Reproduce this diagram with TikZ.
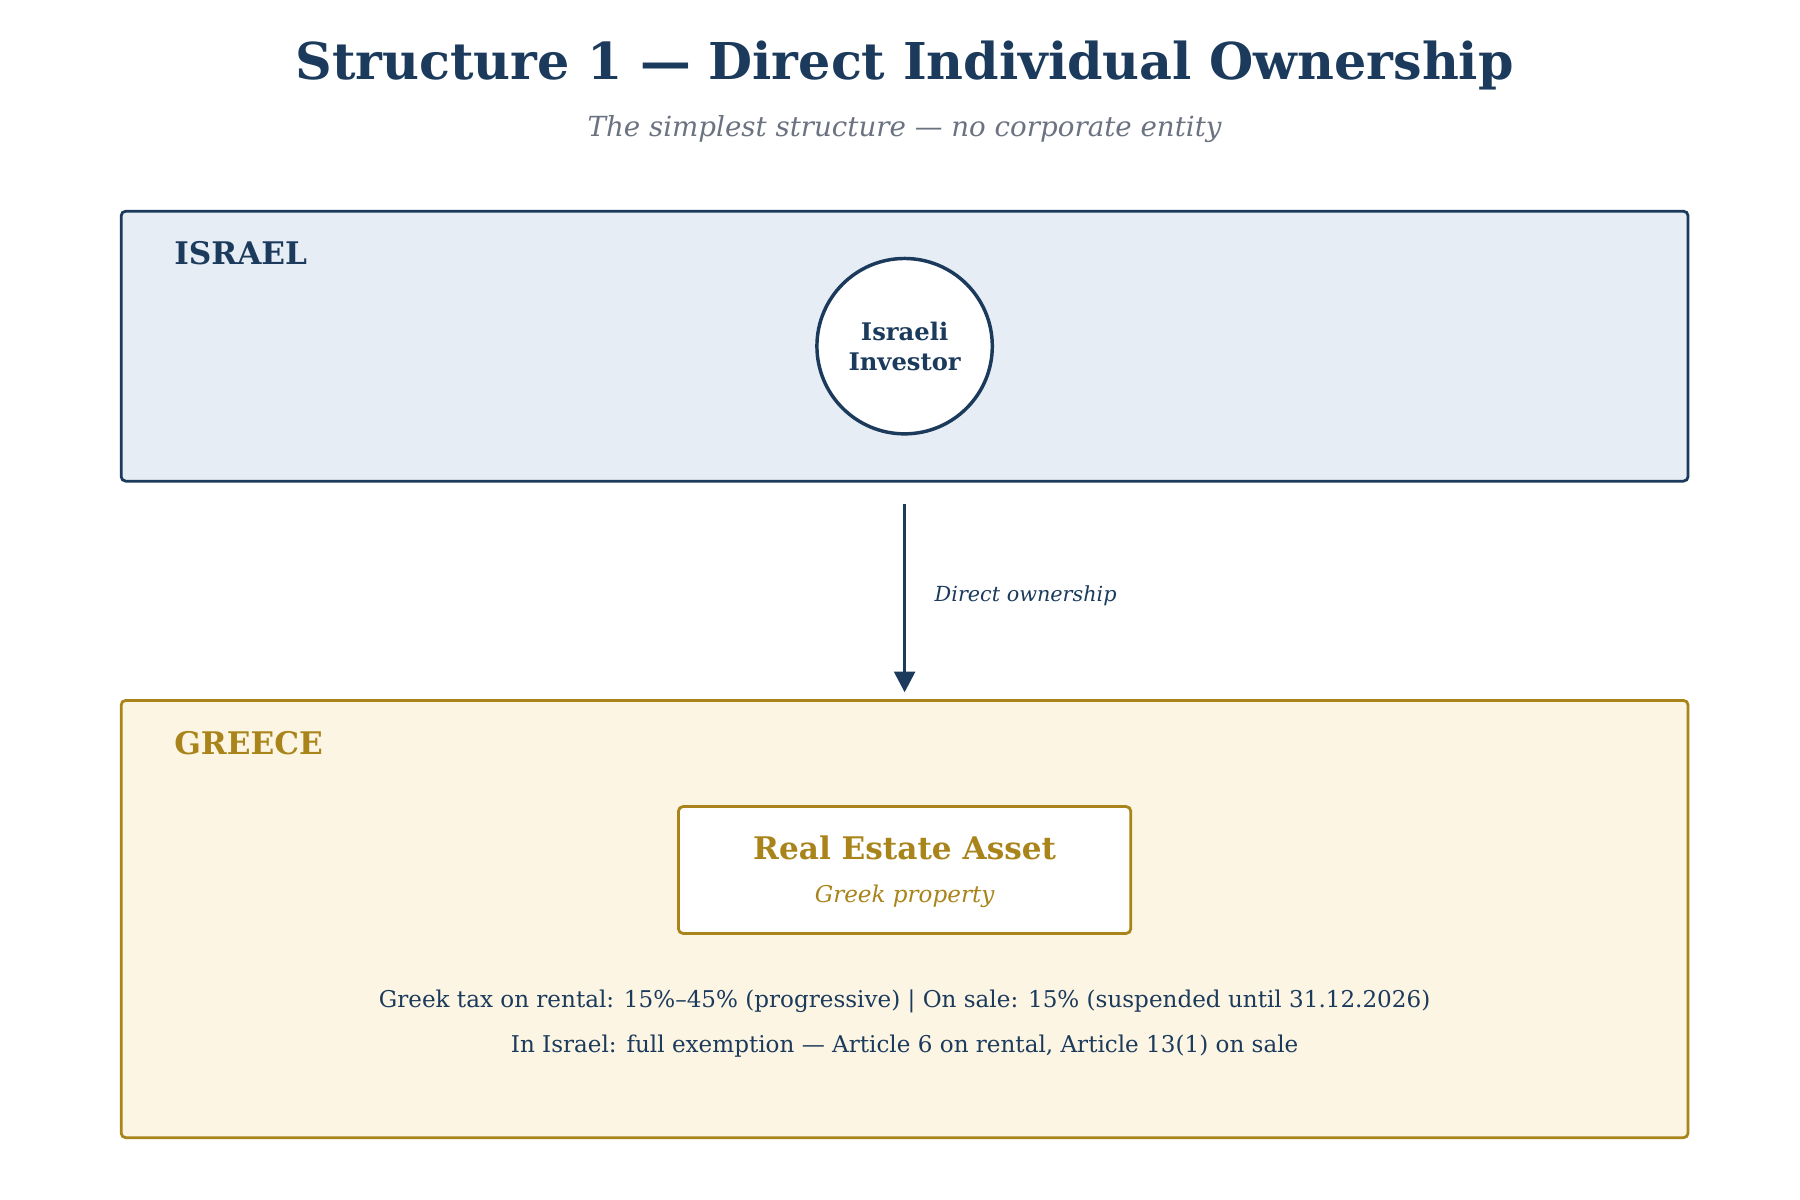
\documentclass[tikz,border=0pt]{standalone}
\usepackage{fontspec}
\setmainfont{DejaVu Serif}
\usepackage{tikz}
\usetikzlibrary{arrows.meta}
\definecolor{navy}{HTML}{1B3A5C}
\definecolor{gold}{HTML}{A8841A}
\definecolor{paleblue}{HTML}{E6EDF5}
\definecolor{cream}{HTML}{FCF5E3}
\definecolor{slate}{HTML}{6B7280}
\tikzset{
  region/.style={draw, line width=1.2pt, rounded corners=2pt},
  tag/.style={anchor=west, font=\bfseries\fontsize{13.5}{16}\selectfont},
  note/.style={text=navy, font=\fontsize{10}{12}\selectfont}
}
\begin{document}
\begin{tikzpicture}[x=0.5pt,y=-0.5pt]
  \useasboundingbox (0,0) rectangle (1560,1040);
  % titles
  \node (title) at (784,57) [text=navy, font=\bfseries\fontsize{22}{26}\selectfont] {Structure 1 — Direct Individual Ownership};
  \node (subtitle) at (784,112) [text=slate, font=\itshape\fontsize{12}{14}\selectfont] {The simplest structure — no corporate entity};
  % israel
  \draw [region, draw=navy, fill=paleblue] (105,183) rectangle (1463,417);
  \node (israel) at (144,219) [tag, text=navy] {ISRAEL};
  \node (investor) at (784,300) [circle, draw=navy, line width=1.5pt, fill=white, minimum size=76pt, align=center, text=navy, font=\bfseries\fontsize{10.5}{13}\selectfont] {Israeli\\Investor};
  % greece
  \draw [region, draw=gold, fill=cream] (105,607) rectangle (1463,986);
  \node (greece) at (144,644) [tag, text=gold] {GREECE};
  \draw [region, draw=gold, fill=white] (588,699) rectangle (980,809);
  \node (asset) at (784,735) [text=gold, font=\bfseries\fontsize{13.5}{16}\selectfont] {Real Estate Asset};
  \node (greekprop) at (784,777) [text=gold, font=\itshape\fontsize{10}{12}\selectfont] {Greek property};
  \node (tax1) at (784,868) [note] {Greek tax on rental: 15\%–45\% (progressive) | On sale: 15\% (suspended until 31.12.2026)};
  \node (tax2) at (784,907) [note] {In Israel: full exemption — Article 6 on rental, Article 13(1) on sale};
  % arrow
  \coordinate (top) at (784,437);
  \coordinate (bottom) at (784,600);
  \draw [navy, line width=1.5pt, -{Triangle[length=9pt,width=9pt]}] (top) -- (bottom);
  \node (own) at (803,516) [anchor=west, text=navy, font=\itshape\fontsize{9}{11}\selectfont] {Direct ownership};
\end{tikzpicture}
\end{document}
